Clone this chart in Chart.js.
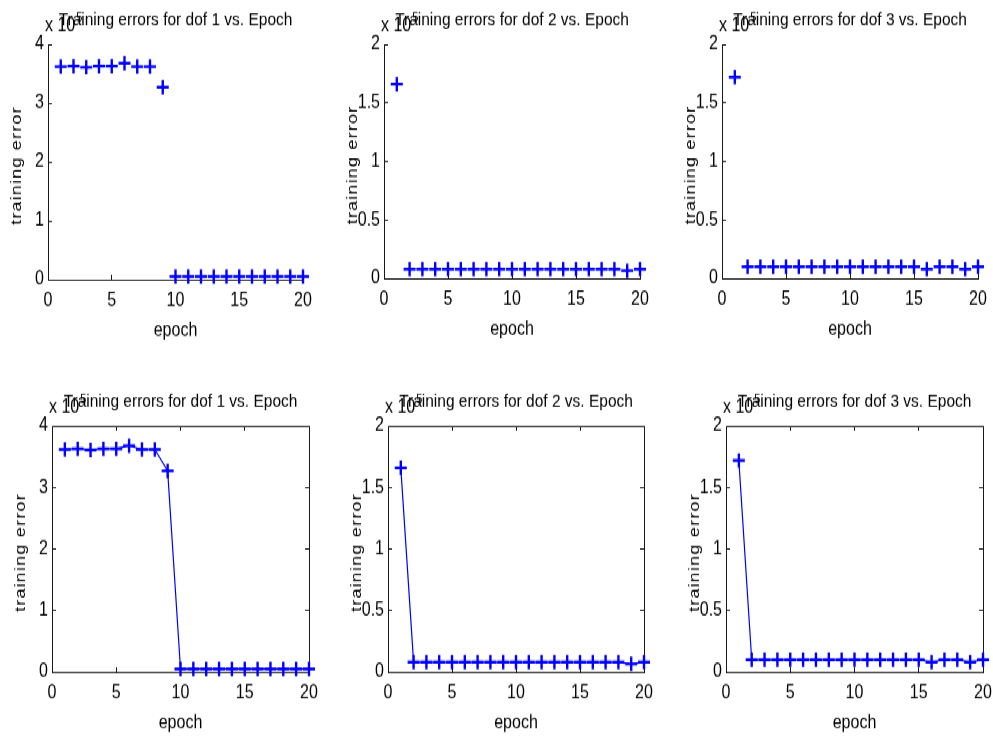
<!DOCTYPE html>
<html>
<head>
<meta charset="utf-8">
<script src="https://cdn.jsdelivr.net/npm/chart.js@4.4.1/dist/chart.umd.min.js"></script>
<style>
  html, body { margin: 0; padding: 0; background: #fff; overflow: hidden; width: 993px; height: 738px; }
  /* the source figure is stretched vertically, so draw flat and stretch back */
  #fig { position: absolute; left: 0; top: 0; width: 993px; height: 615px; transform: scaleY(1.2); transform-origin: 0 0; }
  #fig canvas { position: absolute; }
</style>
</head>
<body>
<div id="fig"></div>
<script>
// training error (x 10^5) per epoch
var epochs = [1, 2, 3, 4, 5, 6, 7, 8, 9, 10, 11, 12, 13, 14, 15, 16, 17, 18, 19, 20];
var dof1Err = [3.62, 3.63, 3.61, 3.63, 3.63, 3.68, 3.62, 3.62, 3.27, 0.05, 0.05, 0.05, 0.05, 0.05, 0.05, 0.05, 0.05, 0.05, 0.05, 0.05];
var dof2Err = [1.66, 0.08, 0.08, 0.08, 0.08, 0.08, 0.08, 0.08, 0.08, 0.08, 0.08, 0.08, 0.08, 0.08, 0.08, 0.08, 0.08, 0.08, 0.065, 0.08];
var dof3Err = [1.72, 0.10, 0.10, 0.10, 0.10, 0.10, 0.10, 0.10, 0.10, 0.10, 0.10, 0.10, 0.10, 0.10, 0.10, 0.08, 0.10, 0.10, 0.08, 0.10];

var titles = ['Training errors for dof 1 vs. Epoch', 'Training errors for dof 2 vs. Epoch', 'Training errors for dof 3 vs. Epoch'];
var yLabel = 'training error';
var xLabel = 'epoch';
var yMaxes = [4, 2, 2];
var ySteps = [1, 0.5, 0.5];
var xMax = 20;
var xStep = 5;
var exponent = '5';

var S = 1.2;
// plot areas on the page [left, top, right, bottom]
var boxes = [
  [48, 44, 303, 279], [384, 44, 640, 278], [722, 44, 978, 278],
  [52, 426, 309, 672], [388, 426, 644, 672], [726, 426, 983, 672]
];
var ML = 55, MR = 55, MT = 45, MB = 60;
var blue = '#0000ff';
var axisColor = '#1a1a1a';
var textColor = '#000';
var fam = '"Liberation Sans", Arial, sans-serif';

// title, the "x 10^5" multiplier and the spaced-out y label
var headerPlugin = {
  id: 'header',
  afterDraw: function (chart, args, opts) {
    var ctx = chart.ctx, a = chart.chartArea;
    ctx.save();
    ctx.fillStyle = textColor;
    ctx.textBaseline = 'alphabetic';
    ctx.textAlign = 'left';
    ctx.font = '16px ' + fam;
    ctx.fillText('x 10', a.left - 3, a.top - 11);
    var w = ctx.measureText('x 10').width;
    ctx.font = '11px ' + fam;
    ctx.fillText(opts.exp, a.left - 2 + w, a.top - 19);
    ctx.font = '15.5px ' + fam;
    ctx.textAlign = 'center';
    ctx.fillText(opts.text, (a.left + a.right) / 2, a.top - 16);

    ctx.translate(a.left - 31, (a.top + a.bottom) / 2 + 3);
    ctx.rotate(-Math.PI / 2);
    ctx.font = '15px ' + fam;
    ctx.letterSpacing = '1px';
    ctx.textBaseline = 'middle';
    ctx.fillText(opts.yText, 0, 0);
    ctx.restore();
  }
};

function plainTick(v) { return '' + v; }

function makeChart(i, values) {
  var k = i % 3;
  var boxed = i >= 3;
  var b = boxes[i];
  var cv = document.createElement('canvas');
  cv.width = (b[2] - b[0]) + ML + MR;
  cv.height = Math.round((b[3] - b[1]) / S) + MT + MB;
  cv.style.left = (b[0] - ML) + 'px';
  cv.style.top = (b[1] / S - MT) + 'px';
  document.getElementById('fig').appendChild(cv);

  var pts = epochs.map(function (e, j) { return { x: e, y: values[j] }; });

  var scales = {
    x: {
      type: 'linear', position: 'bottom', min: 0, max: xMax,
      ticks: { stepSize: xStep, padding: 12, color: textColor, font: { family: fam, size: 16 }, callback: plainTick },
      grid: { drawOnChartArea: false, tickLength: -4, color: axisColor },
      border: { color: axisColor, width: 1 },
      title: { display: true, text: xLabel, color: textColor, font: { family: fam, size: 16 }, padding: { top: 0, bottom: 8 } },
      afterFit: function (s) { s.height = MB; }
    },
    y: {
      type: 'linear', position: 'left', min: 0, max: yMaxes[k],
      ticks: { stepSize: ySteps[k], padding: 8, color: textColor, font: { family: fam, size: 16 }, callback: plainTick },
      grid: { drawOnChartArea: false, tickLength: -4, color: axisColor },
      border: { color: axisColor, width: 1 },
      afterFit: function (s) { s.width = ML; }
    }
  };
  // bottom row has a full box with mirrored ticks
  if (boxed) {
    scales.x2 = {
      type: 'linear', position: 'top', min: 0, max: xMax,
      ticks: { stepSize: xStep, display: false },
      grid: { drawOnChartArea: false, tickLength: -4, color: axisColor },
      border: { color: axisColor, width: 1 },
      afterFit: function (s) { s.height = 0; }
    };
    scales.y2 = {
      type: 'linear', position: 'right', min: 0, max: yMaxes[k],
      ticks: { stepSize: ySteps[k], display: false },
      grid: { drawOnChartArea: false, tickLength: -4, color: axisColor },
      border: { color: axisColor, width: 1 },
      afterFit: function (s) { s.width = 0; }
    };
  }

  new Chart(cv, {
    type: 'scatter',
    data: {
      datasets: [{
        data: pts,
        showLine: boxed,
        borderColor: blue,
        backgroundColor: blue,
        borderWidth: 1.2,
        pointStyle: 'cross',
        pointRadius: 6,
        pointHoverRadius: 6,
        pointBorderWidth: 2.4,
        clip: false
      }]
    },
    options: {
      responsive: false,
      animation: false,
      events: [],
      layout: { padding: { left: 0, right: MR, top: MT, bottom: 0 } },
      plugins: {
        legend: { display: false },
        tooltip: { enabled: false },
        header: { text: titles[k], exp: exponent, yText: yLabel }
      },
      scales: scales
    },
    plugins: [headerPlugin]
  });
}

var series = [dof1Err, dof2Err, dof3Err];
for (var i = 0; i < 6; i++) {
  makeChart(i, series[i % 3]);
}
</script>
</body>
</html>
